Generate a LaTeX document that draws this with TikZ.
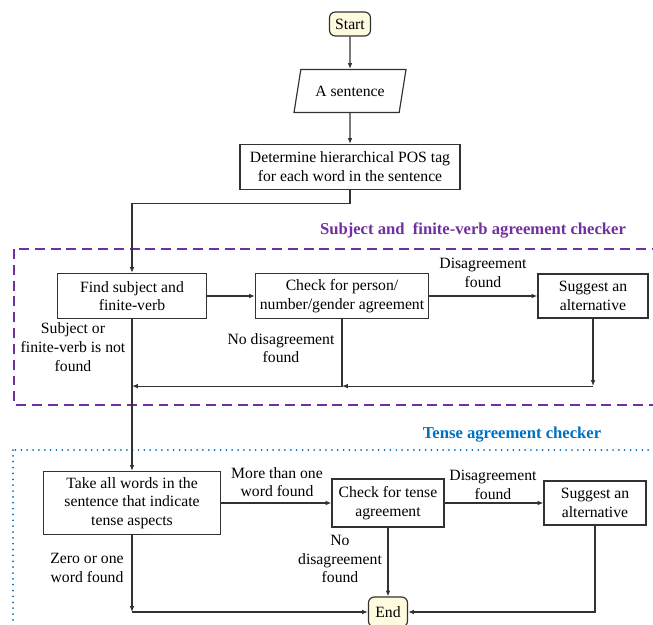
\documentclass[tikz,border=0pt]{standalone}
\usepackage{fontspec}
\setmainfont{Liberation Serif}
\usetikzlibrary{shapes.geometric,arrows.meta}
\definecolor{chkpurple}{RGB}{112,48,160}
\definecolor{chkblue}{RGB}{0,112,192}
\definecolor{termfill}{RGB}{255,251,222}
\definecolor{linegray}{RGB}{50,50,50}
\tikzset{
  box/.style={draw=linegray,line width=1pt,align=center,inner sep=1pt,
    font=\rmfamily\fontsize{13.4}{16}\selectfont},
  term/.style={box,rounded corners=5pt,fill=termfill},
  lbl/.style={align=center,inner sep=0pt,font=\rmfamily\fontsize{13.4}{16}\selectfont},
  title/.style={inner sep=0pt,font=\rmfamily\fontsize{14.2}{16}\selectfont\bfseries},
  flow/.style={draw=linegray,line width=1pt,-{Latex[length=5pt,width=4pt]}}
}
\begin{document}
\begin{tikzpicture}[x=0.03cm,y=-0.03cm]
  \useasboundingbox (0,0) rectangle (653,625);
  % checker areas
  \draw[chkpurple,line width=1.3pt,dash pattern=on 8.5pt off 5pt] (14,249) rectangle (680,405);
  \draw[chkblue,line width=1.7pt,line cap=round,dash pattern=on 0pt off 5pt] (13,450) rectangle (680,660);
  \node[title,text=chkpurple] at (473,230) {Subject and\ \ finite-verb agreement checker};
  \node[title,text=chkblue] at (512,435) {Tense agreement checker};
  % nodes
  \node[term,minimum width=41*0.03cm,minimum height=24*0.03cm] (start) at (350,24) {Start};
  \node[box,trapezium,trapezium left angle=62,trapezium right angle=118,
    trapezium stretches body=true,minimum width=112*0.03cm,minimum height=43*0.03cm] (sent) at (350,91) {A sentence};
  \node[box,minimum width=220*0.03cm,minimum height=45*0.03cm] (pos) at (350,167)
    {Determine hierarchical POS tag\\for each word in the sentence};
  \node[box,minimum width=149*0.03cm,minimum height=45*0.03cm] (find) at (132,296)
    {Find subject and\\finite-verb};
  \node[box,minimum width=173*0.03cm,minimum height=45*0.03cm] (chk) at (342,296)
    {Check for person/\\number/gender agreement};
  \node[box,minimum width=110*0.03cm,minimum height=44*0.03cm] (sug) at (593,296)
    {Suggest an\\alternative};
  \node[box,minimum width=177*0.03cm,minimum height=63*0.03cm] (take) at (132,503)
    {Take all words in the\\sentence that indicate\\tense aspects};
  \node[box,minimum width=112*0.03cm,minimum height=48*0.03cm] (tchk) at (388,503)
    {Check for tense\\agreement};
  \node[box,minimum width=102*0.03cm,minimum height=44*0.03cm] (tsug) at (595,503)
    {Suggest an\\alternative};
  \node[term,minimum width=39*0.03cm,minimum height=30*0.03cm] (stop) at (388,612) {End};
  % labels
  \node[lbl] at (483,273) {Disagreement\\found};
  \node[lbl] at (281,348) {No disagreement\\found};
  \node[lbl] at (73,347) {Subject or\\finite-verb is not\\found};
  \node[lbl] at (277,482) {More than one\\word found};
  \node[lbl] at (493,485) {Disagreement\\found};
  \node[lbl] at (340,559) {No\\disagreement\\found};
  \node[lbl] at (87,568) {Zero or one\\word found};
  % connectors
  \path (chk.south) ++(0,67) coordinate (j1);
  \path (take.south |- stop) coordinate (j2);
  \draw[flow] (start) -- (sent);
  \draw[flow] (sent) -- (pos);
  \draw[flow] (pos.south) -- ++(0,13) -| (find.north);
  \draw[flow] (find) -- (chk);
  \draw[flow] (chk) -- (sug);
  \draw[flow] (sug.south) -- (sug.south |- j1);
  \draw[flow] (sug.south |- j1) -- (j1);
  \draw[flow] (chk.south) -- (j1) -- (find.south |- j1);
  \draw[flow] (find) -- (take);
  \draw[flow] (take) -- (tchk);
  \draw[flow] (tchk) -- (tsug);
  \draw[flow] (tchk) -- (stop);
  \draw[flow] (tsug.south) |- (stop.east);
  \draw[flow] (take.south) -- (j2);
  \draw[flow] (j2) -- (stop.west);
\end{tikzpicture}
\end{document}
